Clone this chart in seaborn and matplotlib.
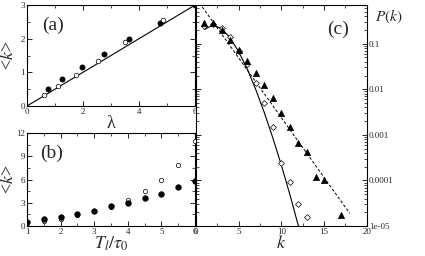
import matplotlib
matplotlib.use("Agg")
import matplotlib.pyplot as plt
import matplotlib.ticker as mticker
import seaborn as sns

# Data

# (a) <k> vs lambda
lam_filled = [0.75, 1.25, 1.95, 2.75, 3.65, 4.75, 6.0]
k_a_filled = [0.50, 0.80, 1.17, 1.55, 2.00, 2.47, 3.00]
lam_open = [0.6, 1.1, 1.75, 2.55, 3.5, 4.85]
k_a_open = [0.33, 0.60, 0.93, 1.35, 1.90, 2.55]
lam_fit = [0, 6]
k_fit = [0, 3]

# (b) <k> vs T_l/tau_0
t_ratio = [1, 1.5, 2, 2.5, 3, 3.5, 4, 4.5, 5, 5.5, 6]
k_b_filled = [0.55, 0.85, 1.2, 1.6, 2.0, 2.6, 3.0, 3.6, 4.2, 5.0, 5.8]
k_b_open = [0.4, 0.6, 0.95, 1.4, 2.0, 2.5, 3.4, 4.5, 5.9, 7.9, 11.0]

# (c) P(k)
k_tri = [1, 2, 3, 4, 5, 6, 7, 8, 9, 10, 11, 12, 13, 14, 15, 17]
p_tri = [0.29, 0.29, 0.20, 0.12, 0.073, 0.041, 0.0226, 0.0122, 0.0065,
         0.00305, 0.0015, 0.00066, 0.00042, 0.00012, 0.000102, 1.74e-5]
k_dia = [1, 2, 3, 4, 5, 6, 7, 8, 9, 10, 11, 12, 13]
p_dia = [0.246, 0.27, 0.22, 0.138, 0.07, 0.036, 0.0137, 0.0049, 0.0015,
         0.00024, 9.3e-5, 3.1e-5, 1.6e-5]
k_solid = [1, 2, 3, 4, 5, 6, 7, 8, 9, 10, 11, 12]
p_solid = [0.205, 0.257, 0.214, 0.134, 0.067, 0.028, 0.0099, 0.0031,
           0.00086, 0.000216, 4.9e-5, 1.0e-5]
k_dash = [0, 18]
p_dash = [1.0, 1.9e-5]
p_ticks = [1e-5, 1e-4, 1e-3, 1e-2, 1e-1]
p_tick_labels = ['1e-05', '0.0001', '0.001', '0.01', '0.1']

# Style
sns.set_style("ticks")
plt.rcParams['font.family'] = ['Liberation Serif', 'DejaVu Serif']
plt.rcParams['mathtext.fontset'] = 'stix'
plt.rcParams['xtick.direction'] = 'in'
plt.rcParams['ytick.direction'] = 'in'
plt.rcParams['xtick.top'] = True
plt.rcParams['ytick.right'] = True
plt.rcParams['xtick.labelsize'] = 6.5
plt.rcParams['ytick.labelsize'] = 6.5
plt.rcParams['xtick.major.pad'] = 1.5
plt.rcParams['ytick.major.pad'] = 1.5
plt.rcParams['axes.linewidth'] = 0.8

fig = plt.figure(figsize=(4.25, 2.56), dpi=100)
ax_a = fig.add_axes([0.0635, 0.586, 0.395, 0.394])
ax_b = fig.add_axes([0.0635, 0.117, 0.395, 0.363])
ax_c = fig.add_axes([0.461, 0.117, 0.402, 0.863])

for ax in (ax_a, ax_b, ax_c):
    ax.tick_params(which='major', length=3.5, width=0.6, color='black')
    ax.tick_params(which='minor', length=2, width=0.5, color='black')
    for s in ax.spines.values():
        s.set_color('black')

# Panel (a)
sns.lineplot(x=lam_fit, y=k_fit, ax=ax_a, color='black', lw=0.8)
sns.scatterplot(x=lam_filled, y=k_a_filled, ax=ax_a, color='black',
                s=14, edgecolor='black', linewidth=0.5, zorder=3)
sns.scatterplot(x=lam_open, y=k_a_open, ax=ax_a, color='white',
                s=11, edgecolor='black', linewidth=0.5, zorder=3)
ax_a.set_xlim(0, 6)
ax_a.set_ylim(0, 3)
ax_a.xaxis.set_major_locator(mticker.MultipleLocator(2))
ax_a.xaxis.set_minor_locator(mticker.MultipleLocator(1))
ax_a.yaxis.set_major_locator(mticker.MultipleLocator(1))
ax_a.yaxis.set_minor_locator(mticker.MultipleLocator(0.5))
ax_a.set_xlabel('λ', fontsize=13, labelpad=-1)
ax_a.set_ylabel('<$k$>', fontsize=13)
ax_a.yaxis.set_label_coords(-0.06, 0.5)
ax_a.text(0.09, 0.80, '(a)', transform=ax_a.transAxes, fontsize=14,
          va='center', ha='left')

# Panel (b)
sns.scatterplot(x=t_ratio, y=k_b_open, ax=ax_b, color='white',
                s=10, edgecolor='black', linewidth=0.5, zorder=3)
sns.scatterplot(x=t_ratio, y=k_b_filled, ax=ax_b, color='black',
                s=16, edgecolor='black', linewidth=0.5, zorder=3)
ax_b.set_xlim(1, 6)
ax_b.set_ylim(0, 12)
ax_b.xaxis.set_major_locator(mticker.MultipleLocator(1))
ax_b.xaxis.set_minor_locator(mticker.MultipleLocator(0.5))
ax_b.yaxis.set_major_locator(mticker.MultipleLocator(3))
ax_b.yaxis.set_minor_locator(mticker.MultipleLocator(1.5))
ax_b.set_xlabel(r'$T_l/\tau_0$', fontsize=13, labelpad=-1)
ax_b.set_ylabel('<$k$>', fontsize=13)
ax_b.yaxis.set_label_coords(-0.06, 0.5)
ax_b.text(0.08, 0.785, '(b)', transform=ax_b.transAxes, fontsize=14,
          va='center', ha='left')

# Panel (c)
sns.lineplot(x=k_solid, y=p_solid, ax=ax_c, color='black', lw=0.8)
sns.lineplot(x=k_dash, y=p_dash, ax=ax_c, color='black', lw=0.7,
             linestyle=(0, (3, 2)))
sns.scatterplot(x=k_dia, y=p_dia, ax=ax_c, marker='D', color='white',
                s=9, edgecolor='black', linewidth=0.5, zorder=3)
sns.scatterplot(x=k_tri, y=p_tri, ax=ax_c, marker='^', color='black',
                s=20, edgecolor='black', linewidth=0.5, zorder=3)
ax_c.set_yscale('log')
ax_c.set_xlim(0, 20)
ax_c.set_ylim(1e-5, 0.7)
ax_c.xaxis.set_major_locator(mticker.MultipleLocator(5))
ax_c.xaxis.set_minor_locator(mticker.MultipleLocator(2.5))
ax_c.yaxis.set_major_locator(mticker.FixedLocator(p_ticks))
ax_c.yaxis.set_major_formatter(mticker.FixedFormatter(p_tick_labels))
ax_c.yaxis.set_minor_locator(mticker.LogLocator(base=10, subs=range(2, 10)))
ax_c.yaxis.set_minor_formatter(mticker.NullFormatter())
ax_c.tick_params(axis='y', which='both', labelleft=False, labelright=True)
ax_c.set_xlabel('$k$', fontsize=13, labelpad=-1)
ax_c.text(0.77, 0.89, '(c)', transform=ax_c.transAxes, fontsize=14,
          va='center', ha='left')
fig.text(0.882, 0.934, '$P(k)$', fontsize=11, ha='left', va='center')

plt.savefig('out.png', dpi=100)
plt.close()
